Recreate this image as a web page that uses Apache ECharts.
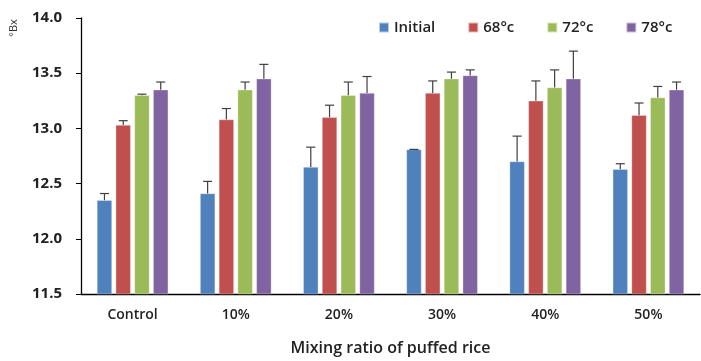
<!DOCTYPE html>
<html><head><meta charset="utf-8">
<script src="https://cdn.jsdelivr.net/npm/echarts@6/dist/echarts.min.js"></script>
<style>html,body{margin:0;padding:0;background:#fff}#c{width:701px;height:361px}</style>
</head><body><div id="c"></div>
<script>
const categories = ['Control','10%','20%','30%','40%','50%'];
const seriesNames = ['Initial','68°c','72°c','78°c'];
const initialVals = [12.35,12.41,12.65,12.81,12.70,12.63];
const t68Vals = [13.03,13.08,13.10,13.32,13.25,13.12];
const t72Vals = [13.30,13.35,13.30,13.45,13.37,13.28];
const t78Vals = [13.35,13.45,13.32,13.48,13.45,13.35];
const initialErr = [0.06,0.11,0.18,0.0,0.23,0.05];
const t68Err = [0.04,0.10,0.11,0.11,0.18,0.11];
const t72Err = [0.01,0.07,0.12,0.06,0.16,0.10];
const t78Err = [0.07,0.13,0.15,0.05,0.25,0.07];
const yTicks = [11.5,12.0,12.5,13.0,13.5,14.0];

const values = [initialVals,t68Vals,t72Vals,t78Vals];
const errs = [initialErr,t68Err,t72Err,t78Err];
const colors = ['#4F81BD','#C0504D','#9BBB59','#8064A2'];
const BW = 15, GAP = 3.75;
const font = '"Open Sans", "DejaVu Sans", sans-serif';

const series = [];
values.forEach((v,i)=>{
  series.push({
    name: seriesNames[i], type:'bar', data:v, barWidth:BW, barGap:'25%',
    itemStyle:{color:colors[i], borderColor:'rgba(255,255,255,0.6)', borderWidth:0.5},
    z:2
  });
});
values.forEach((v,i)=>{
  series.push({
    type:'custom', name: seriesNames[i]+' err', z:3, silent:true,
    data: v.map((val,j)=>[j,val,val+errs[i][j]]),
    renderItem:(params,api)=>{
      const c = api.value(0);
      const p0 = api.coord([c, api.value(1)]);
      const p1 = api.coord([c, api.value(2)]);
      const x = p0[0] + (i-1.5)*(BW+GAP);
      const st = {stroke:'#404040', lineWidth:1.2};
      return {type:'group', children:[
        {type:'line', shape:{x1:x,y1:p0[1],x2:x,y2:p1[1]}, style:st},
        {type:'line', shape:{x1:x-4.5,y1:p1[1],x2:x+4.5,y2:p1[1]}, style:st}
      ]};
    }
  });
});

const chart = echarts.init(document.getElementById('c'));
chart.setOption({
  animation:false,
  grid:{left:81,right:1,top:18,bottom:65,containLabel:false},
  legend:{
    data:seriesNames, top:15, left:373, itemWidth:10, itemHeight:10, itemGap:32,
    icon:'rect',
    textStyle:{fontFamily:font, fontSize:15, color:'#222', fontWeight:600}
  },
  graphic:[{
    type:'text', x:14, y:28, rotation:Math.PI/2,
    style:{text:'°Bx', fontFamily:font, fontSize:11, fill:'#333', align:'center', verticalAlign:'middle'}
  }],
  xAxis:{
    type:'category', data:categories,
    name:'Mixing ratio of puffed rice', nameLocation:'middle', nameGap:46,
    nameTextStyle:{fontFamily:font, fontSize:16, color:'#222', fontWeight:600},
    axisLine:{lineStyle:{color:'#000', width:1.3}},
    axisTick:{show:false},
    axisLabel:{fontFamily:font, fontSize:14, fontWeight:600, color:'#222', margin:14}
  },
  yAxis:{
    type:'value', min:11.5, max:14.0, interval:0.5,
    axisLine:{show:true, lineStyle:{color:'#000', width:1.3}},
    axisTick:{show:true, length:5, inside:false, lineStyle:{color:'#000'}},
    splitLine:{show:false},
    axisLabel:{fontFamily:font, fontSize:15, fontWeight:'bold', color:'#222', margin:19,
      formatter:(v)=>{ const t = yTicks.find(x=>Math.abs(x-v)<1e-6); return (t!==undefined?t:v).toFixed(1); }}
  },
  series:series
});
</script></body></html>
